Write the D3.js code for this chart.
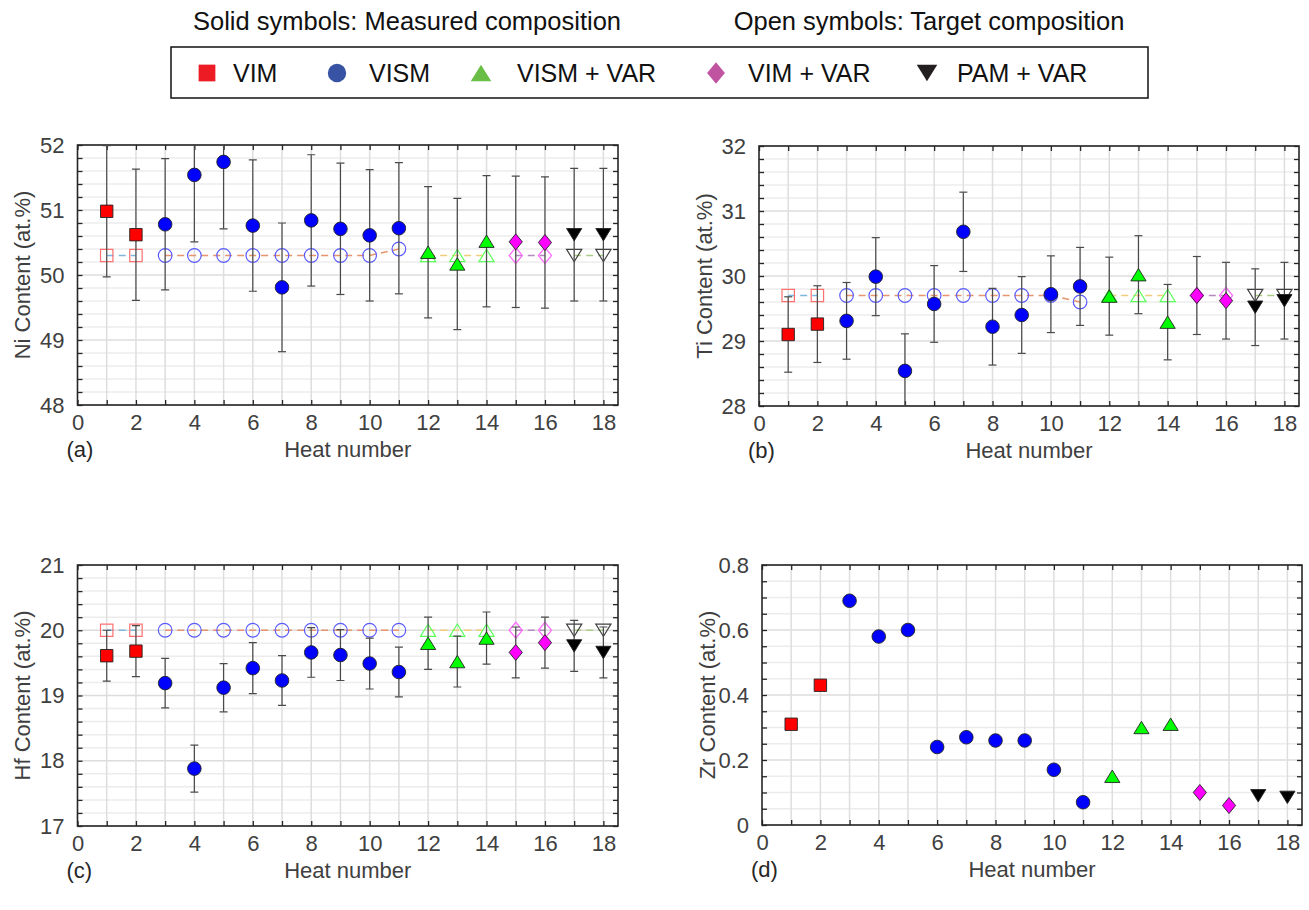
<!DOCTYPE html>
<html>
<head>
<meta charset="utf-8">
<script src="https://cdn.jsdelivr.net/npm/d3@7"></script>
<style>
  body { margin: 0; background: #fff; }
  svg { font-family: "Liberation Sans", Arial, Helvetica, sans-serif; }
</style>
</head>
<body>
<svg id="chart" width="1309" height="910"></svg>
<script>
// ---- data ----
const heats = d3.range(1, 19);
const groupNames = ['VIM', 'VISM', 'VISM + VAR', 'VIM + VAR', 'PAM + VAR'];
const heatGroup = [0, 0, 1, 1, 1, 1, 1, 1, 1, 1, 1, 2, 2, 2, 3, 3, 4, 4];

const niMeasured = [50.98, 50.62, 50.78, 51.54, 51.74, 50.76, 49.81, 50.84, 50.71, 50.61, 50.72, 50.35, 50.17, 50.52, 50.51, 50.50, 50.62, 50.62];
const niError = [1.01, 1.01, 1.01, 1.03, 1.03, 1.01, 0.99, 1.01, 1.01, 1.01, 1.01, 1.01, 1.01, 1.01, 1.01, 1.01, 1.02, 1.02];
const niTarget = [50.3, 50.3, 50.3, 50.3, 50.3, 50.3, 50.3, 50.3, 50.3, 50.3, 50.4, 50.3, 50.3, 50.3, 50.3, 50.3, 50.3, 50.3];

const tiMeasured = [29.10, 29.26, 29.31, 29.99, 28.54, 29.57, 30.68, 29.22, 29.40, 29.72, 29.84, 29.69, 30.02, 29.29, 29.70, 29.62, 29.52, 29.62];
const tiError = [0.58, 0.59, 0.59, 0.60, 0.57, 0.59, 0.61, 0.59, 0.59, 0.59, 0.60, 0.60, 0.60, 0.58, 0.60, 0.59, 0.59, 0.59];
const tiTarget = [29.7, 29.7, 29.7, 29.7, 29.7, 29.7, 29.7, 29.7, 29.7, 29.7, 29.6, 29.7, 29.7, 29.7, 29.7, 29.7, 29.7, 29.7];

const hfMeasured = [19.61, 19.68, 19.19, 17.88, 19.12, 19.42, 19.23, 19.66, 19.62, 19.49, 19.36, 19.80, 19.52, 19.88, 19.66, 19.81, 19.76, 19.66];
const hfError = [0.39, 0.39, 0.38, 0.36, 0.37, 0.39, 0.38, 0.38, 0.39, 0.39, 0.38, 0.40, 0.39, 0.40, 0.39, 0.39, 0.39, 0.39];
const hfTarget = [20, 20, 20, 20, 20, 20, 20, 20, 20, 20, 20, 20, 20, 20, 20, 20, 20, 20];

const zrMeasured = [0.31, 0.43, 0.69, 0.58, 0.60, 0.24, 0.27, 0.26, 0.26, 0.17, 0.07, 0.15, 0.30, 0.31, 0.10, 0.06, 0.09, 0.085];

const xLabelTicks = d3.range(0, 19, 2);

// ---- styling ----
const solidColor = ['#ff0000', '#0000ff', '#00ff00', '#ff00ff', '#000000'];
const openColor = ['#ff7070', '#5a5aff', '#5cff5c', '#ff6cff', '#404040'];
const lineColor = ['#7eb6de', '#e8946e', '#f2cd79', '#b489bd', '#a9cd83'];
const legendColor = ['#ed1c24', '#3953a4', '#6abd45', '#c054a0', '#231f20'];
const shapes = ['square', 'circle', 'triangle', 'diamond', 'triangleDown'];

const markerPath = (shape, k = 1) => {
	const p = d3.path();
	if (shape === 'square') {
		const h = 6.2 * k; p.rect(-h, -h, 2 * h, 2 * h);
	} else if (shape === 'circle') {
		p.arc(0, 0, 6.8 * k, 0, 2 * Math.PI);
	} else if (shape === 'triangle') {
		const w = 7.6 * k, h = 6.2 * k;
		p.moveTo(0, -h); p.lineTo(w, h); p.lineTo(-w, h); p.closePath();
	} else if (shape === 'triangleDown') {
		const w = 7.6 * k, h = 6.2 * k;
		p.moveTo(0, h); p.lineTo(w, -h); p.lineTo(-w, -h); p.closePath();
	} else if (shape === 'diamond') {
		const w = 6.6 * k, h = 8 * k;
		p.moveTo(0, -h); p.lineTo(w, 0); p.lineTo(0, h); p.lineTo(-w, 0); p.closePath();
	}
	return p.toString();
};

const svg = d3.select('#chart');

// ---- header and legend ----
svg.append('text').attr('x', 407).attr('y', 30).attr('text-anchor', 'middle')
	.attr('font-size', 25.5).attr('fill', '#111').text('Solid symbols: Measured composition');
svg.append('text').attr('x', 929).attr('y', 30).attr('text-anchor', 'middle')
	.attr('font-size', 25.5).attr('fill', '#111').text('Open symbols: Target composition');

svg.append('rect').attr('x', 171).attr('y', 47).attr('width', 977).attr('height', 51)
	.attr('fill', 'none').attr('stroke', '#111').attr('stroke-width', 1.5);

const legendMarkX = [207, 337, 481, 716, 927];
const legendTextX = [233, 369, 517, 748, 957];
const legend = svg.append('g').selectAll('g').data(groupNames).join('g');
legend.append('path')
	.attr('transform', (d, i) => `translate(${legendMarkX[i]},73)`)
	.attr('d', (d, i) => markerPath(shapes[i], 1.35))
	.attr('fill', (d, i) => legendColor[i]);
legend.append('text')
	.attr('x', (d, i) => legendTextX[i]).attr('y', 82)
	.attr('font-size', 25).attr('fill', '#111').text(d => d);

// ---- panels ----
const panels = [
	{ tag: '(a)', label: 'Ni Content (at.%)', m: niMeasured, e: niError, t: niTarget,
		domain: [48, 52], major: 4, minor: 20, fmt: d3.format('d'), box: [77.5, 145, 618, 405] },
	{ tag: '(b)', label: 'Ti Content (at.%)', m: tiMeasured, e: tiError, t: tiTarget,
		domain: [28, 32], major: 4, minor: 20, fmt: d3.format('d'), box: [759, 146, 1299, 406] },
	{ tag: '(c)', label: 'Hf Content (at.%)', m: hfMeasured, e: hfError, t: hfTarget,
		domain: [17, 21], major: 4, minor: 20, fmt: d3.format('d'), box: [77.5, 565, 618, 826] },
	{ tag: '(d)', label: 'Zr Content (at.%)', m: zrMeasured, e: null, t: null,
		domain: [0, 0.8], major: 4, minor: 16, fmt: d => d === 0 ? '0' : d3.format('.1f')(d), box: [762, 565, 1302, 825] },
];

panels.forEach((cfg, pi) => {
	const [left, top, right, bottom] = cfg.box;
	const x = d3.scaleLinear().domain([0, 18.5]).range([left, right]);
	const y = d3.scaleLinear().domain(cfg.domain).range([bottom, top]);
	const g = svg.append('g');

	const clipId = `clip${pi}`;
	g.append('clipPath').attr('id', clipId).append('rect')
		.attr('x', left).attr('y', top).attr('width', right - left).attr('height', bottom - top);

	const minorTicks = y.ticks(cfg.minor);
	const majorTicks = y.ticks(cfg.major);
	const isMajor = v => majorTicks.some(m => Math.abs(m - v) < 1e-9);

	// grid
	g.append('g').selectAll('line').data(minorTicks).join('line')
		.attr('x1', left).attr('x2', right)
		.attr('y1', d => y(d)).attr('y2', d => y(d))
		.attr('stroke', d => isMajor(d) ? '#dcdcdc' : '#ececec')
		.attr('stroke-width', 1.5);
	g.append('g').selectAll('line').data(heats).join('line')
		.attr('x1', d => x(d)).attr('x2', d => x(d))
		.attr('y1', top).attr('y2', bottom)
		.attr('stroke', '#dedede').attr('stroke-width', 1.5);

	// axes (ticks inward)
	const styleAxis = sel => {
		sel.select('.domain').remove();
		sel.selectAll('line').attr('stroke', '#262626').attr('stroke-width', 1.3);
		sel.selectAll('text').attr('fill', '#404040').attr('font-size', 22);
	};
	g.append('g').attr('transform', `translate(0,${bottom})`)
		.call(d3.axisBottom(x).tickValues(d3.range(0, 19)).tickSizeInner(-5).tickSizeOuter(0).tickPadding(9)
			.tickFormat(d => xLabelTicks.includes(d) ? d : ''))
		.call(styleAxis);
	g.append('g').attr('transform', `translate(0,${top})`)
		.call(d3.axisTop(x).tickValues(d3.range(0, 19)).tickSizeInner(-5).tickSizeOuter(0).tickFormat(''))
		.call(styleAxis);
	g.append('g').attr('transform', `translate(${left},0)`)
		.call(d3.axisLeft(y).tickValues(minorTicks).tickSizeInner(-5).tickSizeOuter(0).tickPadding(13)
			.tickFormat(d => isMajor(d) ? cfg.fmt(d) : ''))
		.call(styleAxis);
	g.append('g').attr('transform', `translate(${right},0)`)
		.call(d3.axisRight(y).tickValues(minorTicks).tickSizeInner(-5).tickSizeOuter(0).tickFormat(''))
		.call(styleAxis);

	g.append('rect').attr('x', left).attr('y', top).attr('width', right - left).attr('height', bottom - top)
		.attr('fill', 'none').attr('stroke', '#262626').attr('stroke-width', 1.6);

	// labels
	g.append('text')
		.attr('transform', `translate(${left - 55},${(top + bottom) / 2}) rotate(-90)`)
		.attr('text-anchor', 'middle').attr('dy', '0.35em')
		.attr('font-size', 22).attr('fill', '#404040').text(cfg.label);
	g.append('text').attr('x', (left + right) / 2).attr('y', bottom + 52)
		.attr('text-anchor', 'middle').attr('font-size', 22).attr('fill', '#404040').text('Heat number');
	g.append('text').attr('x', left - 11).attr('y', bottom + 52)
		.attr('font-size', 22).attr('fill', '#262626').text(cfg.tag);

	const plot = g.append('g').attr('clip-path', `url(#${clipId})`);

	// target composition: dashed lines per group + open symbols
	if (cfg.t) {
		groupNames.forEach((name, gi) => {
			const idx = heats.map((h, i) => i).filter(i => heatGroup[i] === gi);
			plot.append('path')
				.datum(idx)
				.attr('d', d3.line().x(i => x(heats[i])).y(i => y(cfg.t[i])))
				.attr('fill', 'none').attr('stroke', lineColor[gi])
				.attr('stroke-width', 1.5).attr('stroke-dasharray', '7,5');
		});
		plot.append('g').selectAll('path').data(heats).join('path')
			.attr('transform', (h, i) => `translate(${x(h)},${y(cfg.t[i])})`)
			.attr('d', (h, i) => markerPath(shapes[heatGroup[i]]))
			.attr('fill', 'none').attr('stroke', (h, i) => openColor[heatGroup[i]]).attr('stroke-width', 1.2);
	}

	// error bars
	if (cfg.e) {
		const eb = plot.append('g').attr('stroke', '#4a4a4a').attr('stroke-width', 1.2);
		eb.selectAll('line.v').data(heats).join('line').attr('class', 'v')
			.attr('x1', d => x(d)).attr('x2', d => x(d))
			.attr('y1', (d, i) => y(cfg.m[i] - cfg.e[i])).attr('y2', (d, i) => y(cfg.m[i] + cfg.e[i]));
		[-1, 1].forEach(s => {
			eb.selectAll(`line.c${s}`).data(heats).join('line').attr('class', `c${s}`)
				.attr('x1', d => x(d) - 4).attr('x2', d => x(d) + 4)
				.attr('y1', (d, i) => y(cfg.m[i] + s * cfg.e[i])).attr('y2', (d, i) => y(cfg.m[i] + s * cfg.e[i]));
		});
	}

	// measured composition: solid symbols
	plot.append('g').selectAll('path').data(heats).join('path')
		.attr('transform', (h, i) => `translate(${x(h)},${y(cfg.m[i])})`)
		.attr('d', (h, i) => markerPath(shapes[heatGroup[i]]))
		.attr('fill', (h, i) => solidColor[heatGroup[i]])
		.attr('stroke', '#222').attr('stroke-width', 0.9);
});
</script>
</body>
</html>
